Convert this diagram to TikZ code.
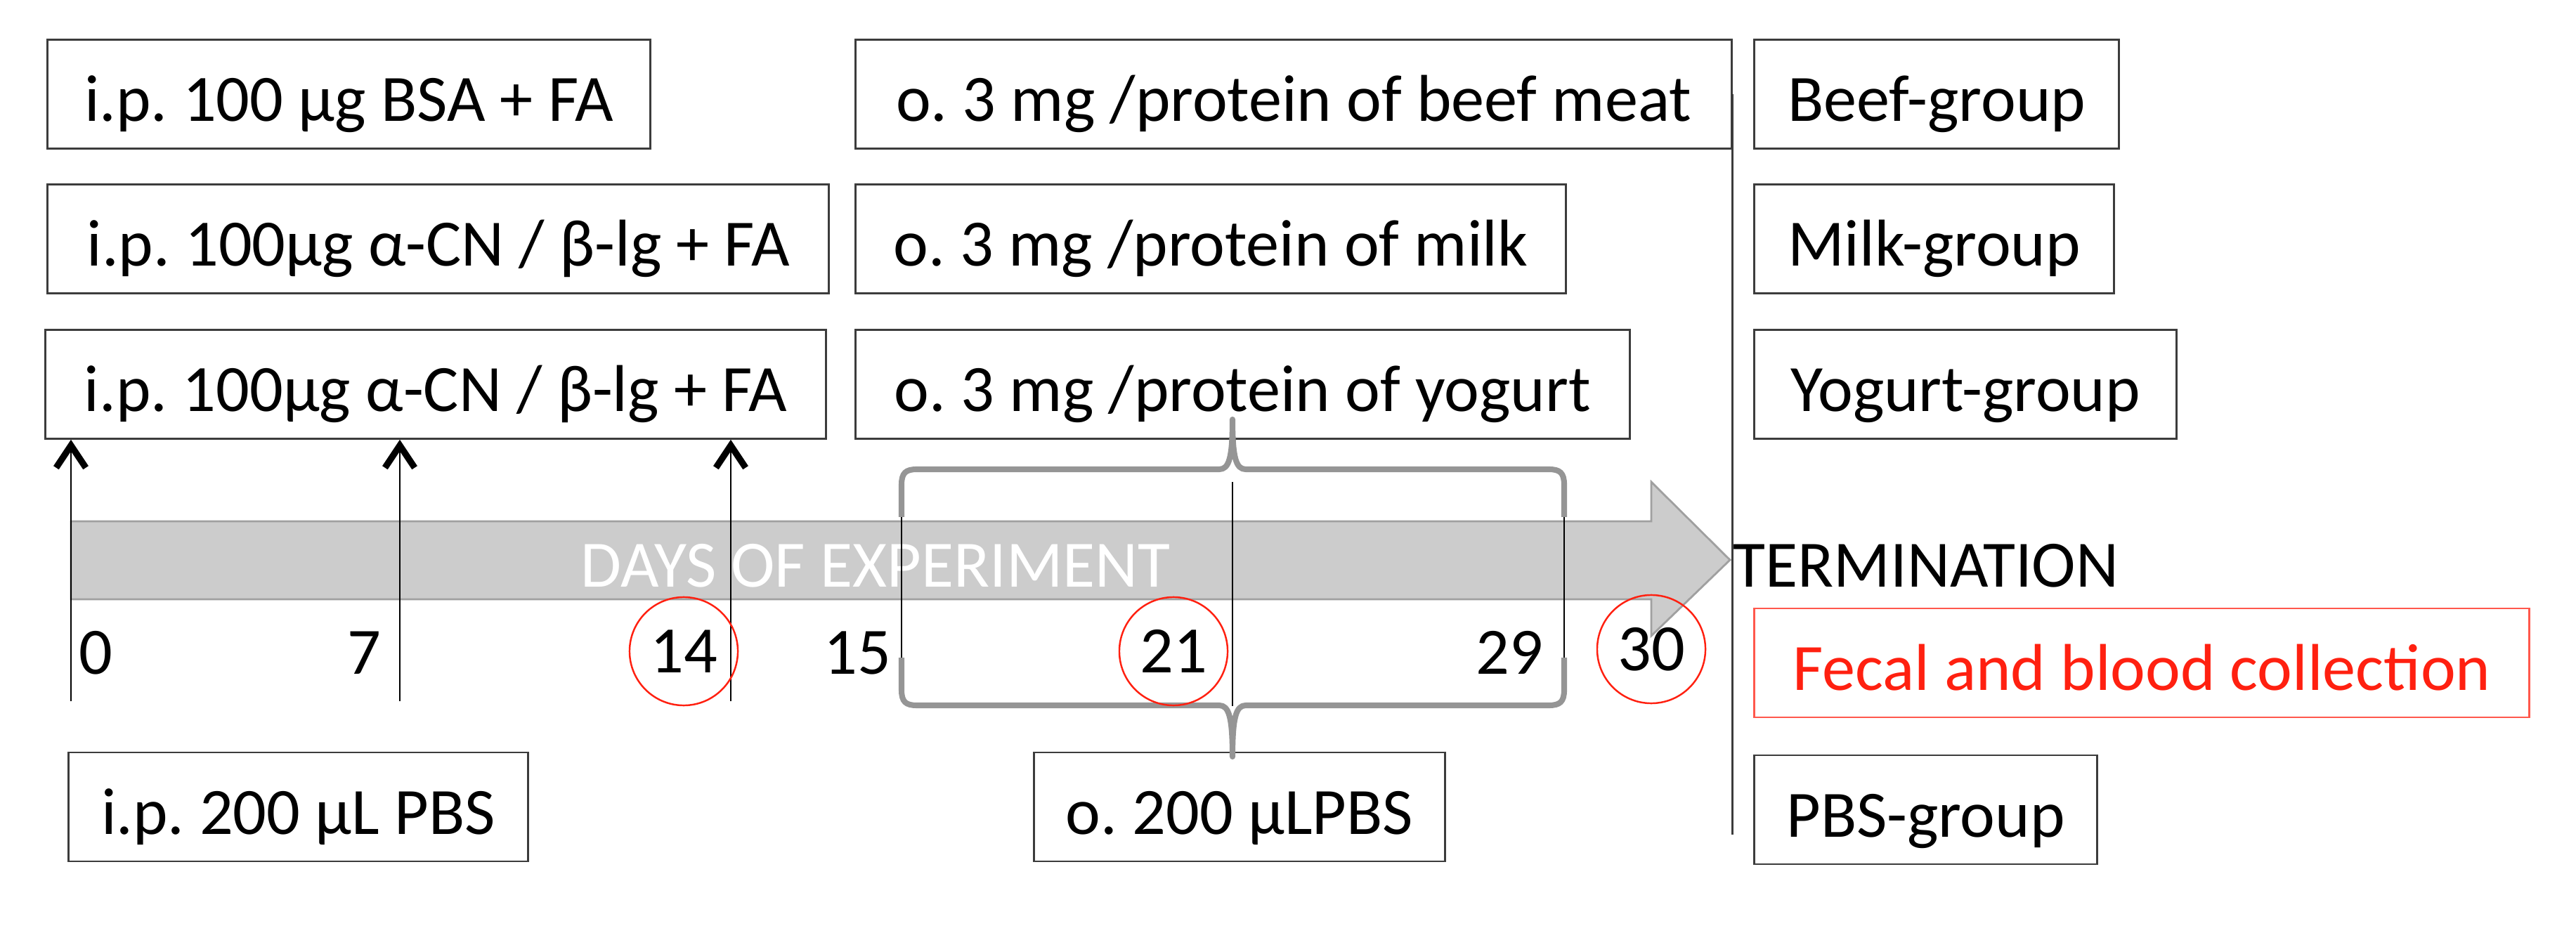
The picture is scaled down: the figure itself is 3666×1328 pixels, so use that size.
\documentclass[tikz,border=0pt]{standalone}
\usepackage{fontspec}
\setmainfont{Carlito}
\usepackage{xcolor}
\usetikzlibrary{positioning,arrows.meta}
\definecolor{barfill}{RGB}{204,204,204}
\definecolor{barline}{RGB}{160,160,160}
\definecolor{bracegray}{RGB}{149,149,149}
\definecolor{boxline}{RGB}{60,60,60}
\definecolor{markred}{RGB}{255,32,16}

\begin{document}
\begin{tikzpicture}[x=0.01cm,y=-0.01cm,font=\fontsize{26.8pt}{32pt}\selectfont\frenchspacing]
    \tikzstyle{bx} = [draw=boxline,rectangle,line width=0.8pt,minimum height=1.55cm,inner sep=0pt,text height=0.77cm,text depth=0pt]
    \tikzstyle{redbx} = [bx,draw=markred!75,text=markred]
    \tikzstyle{day} = [inner sep=0pt]
    \tikzstyle{dayc} = [circle,draw=markred,line width=0.7pt,minimum size=1.54cm,inner sep=0pt]
    \tikzstyle{dayline} = [line width=0.7pt]
    \tikzstyle{inject} = [dayline,-{Straight Barb[length=9pt,width=12pt,line width=2.6pt]}]
    \tikzstyle{brc} = [draw=bracegray,line width=2.3pt,line join=round]
    \useasboundingbox (0,0) rectangle (3666,1328);
    % i.p. immunisation
    \node[bx,minimum width=8.57cm] (ipb) at (496.5,134) {i.p. 100 µg BSA + FA};
    \node[bx,minimum width=11.11cm] (ipm) [below right=0.48cm and 0cm of ipb.south west] {i.p. 100µg α-CN / β-lg + FA};
    \node[bx,minimum width=11.10cm] (ipy) [below right=0.49cm and -0.03cm of ipm.south west] {i.p. 100µg α-CN / β-lg + FA};
    % oral challenge
    \node[bx,minimum width=12.46cm] (ob) at (1841,134) {o. 3 mg /protein of beef meat};
    \node[bx,minimum width=10.10cm] (om) [below right=0.48cm and 0cm of ob.south west] {o. 3 mg /protein of milk};
    \node[bx,minimum width=11.01cm] (oy) [below right=0.49cm and 0cm of om.south west] {o. 3 mg /protein of yogurt};
    % groups
    \node[bx,minimum width=5.18cm] (gb) at (2756,134) {Beef-group};
    \node[bx,minimum width=5.11cm] (gm) [below right=0.48cm and 0cm of gb.south west] {Milk-group};
    \node[bx,minimum width=6.00cm] (gy) [below right=0.49cm and 0cm of gm.south west] {Yogurt-group};
    % controls
    \node[bx,minimum width=6.53cm] (ippbs) at (424.5,1148.5) {i.p. 200 µL PBS};
    \node[bx,minimum width=5.84cm] (opbs) at (1764,1148.5) {o. 200 µLPBS};
    \node[bx,minimum width=4.87cm] (gp) at (2740.5,1152.5) {PBS-group};
    \node[redbx,minimum width=11.02cm] (fec) at (3048,943.5) {Fecal and blood collection};
    \node[day,anchor=base west] (term) at (2466,836) {TERMINATION};
    % time bar
    \filldraw[fill=barfill,draw=barline,line width=0.8pt] (101,742) -- (2350,742) -- (2350,686) -- (2462,797)
        -- (2350,905) -- (2350,853) -- (101,853) -- cycle;
    \node[day,anchor=base west,text=white] (days) at (826,836) {DAYS OF EXPERIMENT};
    % braces round days 15-29
    \draw[brc] (1283,736) -- (1283,690) .. controls (1283,673) and (1289,668) .. (1305,668) -- (1735,668)
        .. controls (1749,668) and (1754,652) .. (1754,597) .. controls (1754,652) and (1759,668) .. (1773,668)
        -- (2204,668) .. controls (2220,668) and (2226,673) .. (2226,690) -- (2226,736);
    \draw[brc] (1283,936) -- (1283,982) .. controls (1283,999) and (1289,1004) .. (1305,1004) -- (1735,1004)
        .. controls (1749,1004) and (1754,1021) .. (1754,1077) .. controls (1754,1021) and (1759,1004) .. (1773,1004)
        -- (2204,1004) .. controls (2220,1004) and (2226,999) .. (2226,982) -- (2226,936);
    \coordinate (b15t) at (1283,736);
    \coordinate (b15b) at (1283,936);
    \coordinate (b29t) at (2226,736);
    \coordinate (b29b) at (2226,936);
    \coordinate (bmt) at (1754,686);
    \coordinate (bmb) at (1754,1005);
    \draw[dayline] (b15t) -- (b15b);
    \draw[dayline] (b29t) -- (b29b);
    \draw[dayline] (bmt) -- (bmb);
    % termination line
    \coordinate (tend) at (2462,1188);
    \draw[draw=boxline,line width=0.8pt] (ob.east) -- (ob.east |- tend);
    % injections
    \coordinate (d0) at (101,998);
    \coordinate (d7) at (569,998);
    \coordinate (d14) at (1040,998);
    \draw[inject] (d0) -- (d0 |- ipy.south);
    \draw[inject] (d7) -- (d7 |- ipy.south);
    \draw[inject] (d14) -- (d14 |- ipy.south);
    % days
    \node[day] (n0) at (136,929) {0};
    \node[day] (n7) at (518,929) {7};
    \node[dayc] (n14) at (973,927) {14};
    \node[day] (n15) at (1220,929) {15};
    \node[dayc] (n21) at (1670,927) {21};
    \node[day] (n29) at (2148,929) {29};
    \node[dayc] (n30) at (2350,924) {30};
\end{tikzpicture}
\end{document}
